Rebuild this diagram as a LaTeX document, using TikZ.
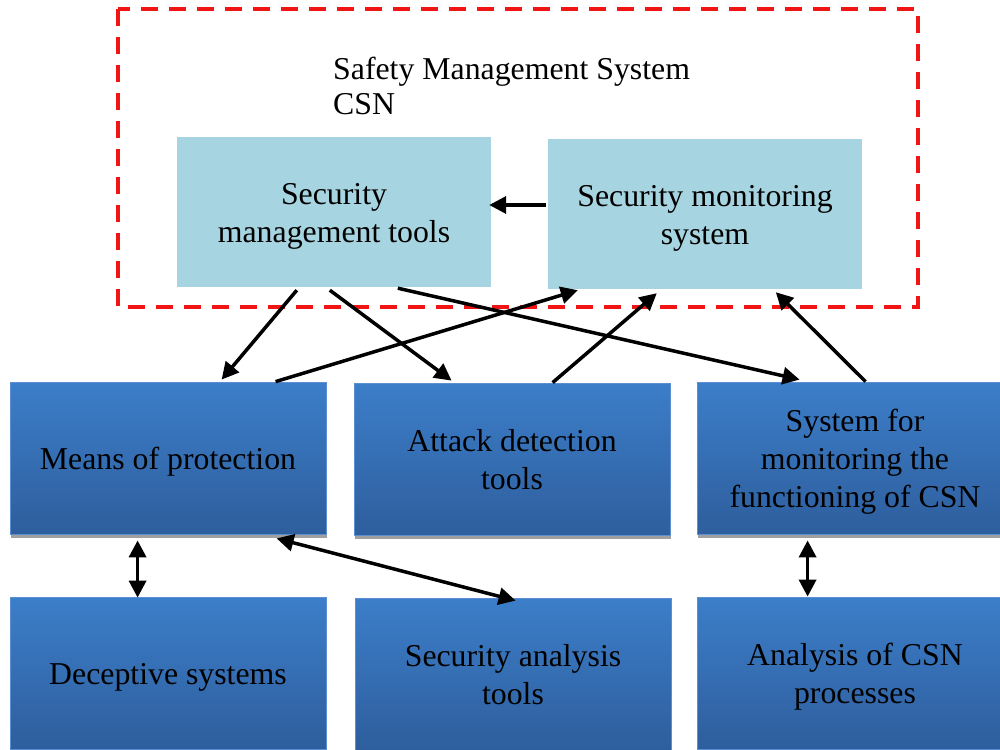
\documentclass[tikz,border=0pt]{standalone}
\usepackage{fontspec}
\setmainfont{Liberation Serif}
\usetikzlibrary{arrows.meta,shadows}

\definecolor{toolblue}{RGB}{166,212,224}
\definecolor{boxtop}{RGB}{60,126,201}
\definecolor{boxbottom}{RGB}{46,94,157}
\definecolor{boxedge}{RGB}{92,142,210}
\definecolor{shadowgray}{RGB}{160,160,160}
\definecolor{frame}{RGB}{240,20,20}

% centred block of lines, set a little below the middle of its box
% (the box keeps its natural size, so only the ink moves down)
\newcommand{\boxlines}[1]{\raisebox{-4pt}[\height][\depth]{\setlength{\tabcolsep}{0pt}\begin{tabular}{c}#1\end{tabular}}}

\tikzset{
  every node/.style={font=\fontsize{31.8}{38}\selectfont, inner sep=0pt},
  toolbox/.style={fill=toolblue, minimum width=314, minimum height=150},
  mainbox/.style={top color=boxtop, bottom color=boxbottom, draw=boxedge, line width=0.8pt,
    minimum width=316, minimum height=152,
    drop shadow={shadow xshift=1pt, shadow yshift=-4pt, fill=shadowgray, opacity=1}},
  arr/.style={line width=3.5pt, -{Triangle[length=17pt,width=17pt]}},
  biarr/.style={line width=3.5pt, {Triangle[length=17pt,width=17pt]}-{Triangle[length=17pt,width=17pt]}},
}

\begin{document}
\begin{tikzpicture}[x=1pt, y=-1pt]
  \useasboundingbox (0,0) rectangle (1000,749);
  \clip (0,0) rectangle (1000,749);

  % management system frame and its caption
  \draw[frame, line width=3.5pt, dash pattern=on 17pt off 11pt] (118,9) rectangle (918,307);
  \node[anchor=base west, align=left, font=\fontsize{31.8}{35}\selectfont] (title) at (333,114)
    {Safety Management System\\CSN};

  % upper tools
  \node[toolbox] (smt) at (334,212) {\boxlines{Security\\management tools}};
  \node[toolbox] (sms) at (705,214) {\boxlines{Security monitoring\\system}};

  % middle row
  \node[mainbox] (mop) at (168,458) {\boxlines{Means of protection}};
  \node[mainbox] (adt) at (512,459) {\boxlines{Attack detection\\tools}};
  \node[mainbox] (sfm) at (855,458) {\boxlines{System for\\monitoring the\\functioning of CSN}};

  % bottom row
  \node[mainbox] (dec) at (168,673) {\boxlines{Deceptive systems}};
  \node[mainbox] (sat) at (513,674) {\boxlines{Security analysis\\tools}};
  \node[mainbox] (acp) at (855,673) {\boxlines{Analysis of CSN\\processes}};

  % connectors
  \draw[arr] ([xshift=-2pt,yshift=9pt]sms.west) -- ([xshift=-2pt,yshift=7pt]smt.east);
  \draw[arr] ([xshift=120pt,yshift=-3pt]smt.south west) -- ([xshift=212pt,yshift=2pt]mop.north west);
  \draw[arr] ([xshift=153pt,yshift=-3pt]smt.south west) -- ([xshift=98pt,yshift=2pt]adt.north west);
  \draw[arr] ([xshift=221pt,yshift=-1pt]smt.south west) -- ([xshift=103pt,yshift=2pt]sfm.north west);
  \draw[arr] ([xshift=266pt]mop.north west) -- ([xshift=30pt,yshift=-1pt]sms.south west);
  \draw[arr] ([xshift=199pt]adt.north west) -- ([xshift=109pt,yshift=-4pt]sms.south west);
  \draw[arr] ([xshift=169pt]sfm.north west) -- ([xshift=228pt,yshift=-3pt]sms.south west);
  \draw[biarr] ([xshift=128pt,yshift=-6pt]mop.south west) -- ([xshift=128pt,yshift=-1pt]dec.north west);
  \draw[biarr] ([xshift=267pt,yshift=-4pt]mop.south west) -- ([xshift=161pt,yshift=-3pt]sat.north west);
  \draw[biarr] ([xshift=111pt,yshift=-6pt]sfm.south west) -- ([xshift=111pt]acp.north west);
\end{tikzpicture}
\end{document}
